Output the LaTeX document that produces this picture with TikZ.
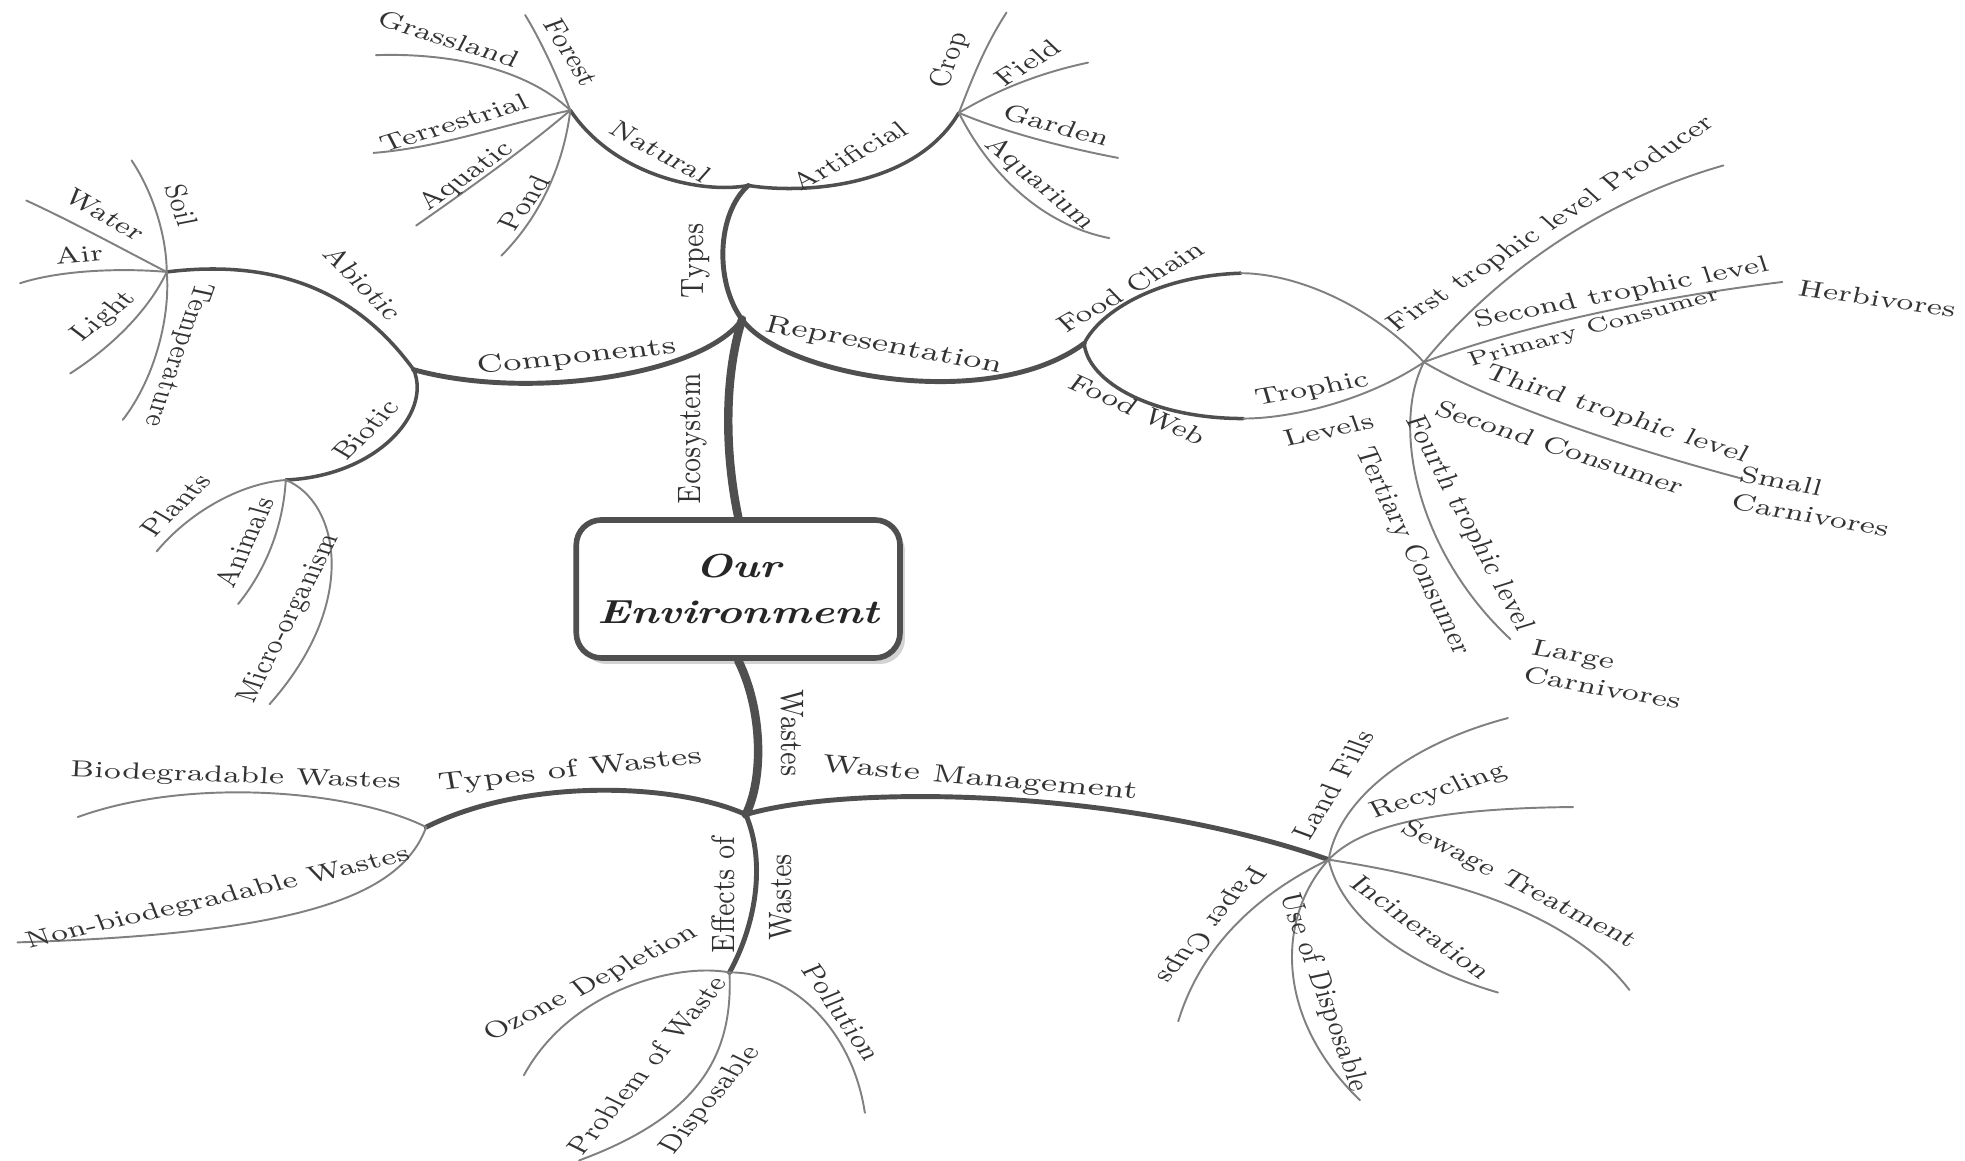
\documentclass[tikz,border=0pt]{standalone}
\usepackage{tikz}
\usepackage{xcolor}
\usetikzlibrary{shadows}

\definecolor{inkgrey}{HTML}{333333}
\definecolor{limbgrey}{HTML}{4f4f4f}
\definecolor{twiggrey}{HTML}{808080}

\begin{document}
\begin{tikzpicture}[xscale=1.3, x=0.0964mm, y=-0.12532mm,
  every node/.append style={transform shape},
  trunkline/.style={draw=limbgrey, line width=2.4pt, line cap=round},
  mainline/.style={draw=limbgrey, line width=1.4pt, line cap=round},
  subline/.style={draw=limbgrey, line width=1pt, line cap=round},
  leafline/.style={draw=twiggrey, line width=0.55pt, line cap=round},
  word/.style={text=inkgrey, font=\fontsize{6.6}{8}\selectfont, inner sep=0.8pt},
  bigword/.style={word, font=\fontsize{7.1}{8.6}\selectfont},
  smallword/.style={word, font=\fontsize{5.7}{7}\selectfont},
  tilt/.style={rotate={atan2(1.3*sin(#1),cos(#1))}},
  envbox/.style={draw=limbgrey, line width=1.6pt, rounded corners=2.5mm, fill=white,
    minimum width=24.9mm, minimum height=13.8mm, align=center, text=black!85,
    font=\fontsize{9.5}{13}\selectfont\bfseries\itshape,
    drop shadow={shadow xshift=0.5mm, shadow yshift=-0.6mm, opacity=0.35}}]
\useasboundingbox (0,0) rectangle (1568,926);

\node[envbox] (env) at (589,470) {Our\\Environment};

\coordinate (eco) at (592,255);
\coordinate (wst) at (595,650);
\coordinate (typ) at (597,148);
\coordinate (cmp) at (330,295);
\coordinate (rep) at (865,274);
\coordinate (nat) at (455,88);
\coordinate (art) at (765,90);
\coordinate (abi) at (133,217);
\coordinate (bio) at (228,383);
\coordinate (fch) at (990,218);
\coordinate (fwb) at (992,334);
\coordinate (tro) at (1136,289);
\coordinate (tow) at (340,660);
\coordinate (mgt) at (1060,686);
\coordinate (eff) at (582,776);

\coordinate (forest) at (419,12);
\coordinate (grass) at (300,44);
\coordinate (terr) at (298,122);
\coordinate (aqua) at (332,180);
\coordinate (pond) at (400,204);
\coordinate (crop) at (803,10);
\coordinate (field) at (868,50);
\coordinate (garden) at (892,126);
\coordinate (aquar) at (885,190);
\coordinate (soil) at (105,128);
\coordinate (water) at (21,160);
\coordinate (air) at (16,226);
\coordinate (light) at (56,298);
\coordinate (temp) at (98,335);
\coordinate (plants) at (125,440);
\coordinate (animals) at (190,482);
\coordinate (micro) at (215,562);
\coordinate (first) at (1375,132);
\coordinate (second) at (1422,225);
\coordinate (third) at (1390,382);
\coordinate (fourth) at (1205,510);
\coordinate (biod) at (62,652);
\coordinate (nonb) at (14,752);
\coordinate (ozone) at (418,858);
\coordinate (probl) at (462,926);
\coordinate (pollu) at (690,888);
\coordinate (landf) at (1203,573);
\coordinate (recyc) at (1255,644);
\coordinate (sewage) at (1300,790);
\coordinate (incin) at (1195,792);
\coordinate (usedis) at (1085,878);
\coordinate (paper) at (940,815);

\draw[trunkline] (env.north) .. controls (578,360) and (578,300) .. (eco);
\draw[trunkline] (env.south) .. controls (608,565) and (610,620) .. (wst);

\draw[mainline] (eco) .. controls (570,225) and (572,170) .. (typ);
\draw[mainline] (eco) .. controls (560,300) and (420,320) .. (cmp);
\draw[mainline] (eco) .. controls (625,300) and (790,330) .. (rep);
\draw[mainline] (wst) .. controls (540,625) and (420,620) .. (tow);
\draw[mainline] (wst) .. controls (680,625) and (900,630) .. (mgt);
\draw[mainline] (wst) .. controls (612,690) and (602,740) .. (eff);

\draw[subline] (typ) .. controls (560,155) and (490,140) .. (nat);
\draw[subline] (typ) .. controls (640,155) and (730,150) .. (art);
\draw[subline] (cmp) .. controls (290,240) and (230,205) .. (abi);
\draw[subline] (cmp) .. controls (345,330) and (300,380) .. (bio);
\draw[subline] (rep) .. controls (878,248) and (925,220) .. (fch);
\draw[leafline] (fch) .. controls (1030,218) and (1090,240) .. (tro);
\draw[subline] (rep) .. controls (868,305) and (920,334) .. (fwb);
\draw[leafline] (fwb) .. controls (1030,334) and (1090,320) .. (tro);

\draw[leafline] (nat) .. controls (445,62) and (433,35) .. (forest);
\draw[leafline] (nat) .. controls (420,55) and (360,42) .. (grass);
\draw[leafline] (nat) .. controls (400,100) and (350,118) .. (terr);
\draw[leafline] (nat) .. controls (420,118) and (375,150) .. (aqua);
\draw[leafline] (nat) .. controls (450,130) and (432,172) .. (pond);
\draw[leafline] (art) .. controls (775,65) and (785,38) .. (crop);
\draw[leafline] (art) .. controls (795,72) and (830,58) .. (field);
\draw[leafline] (art) .. controls (800,105) and (850,118) .. (garden);
\draw[leafline] (art) .. controls (785,130) and (825,178) .. (aquar);
\draw[leafline] (abi) .. controls (133,190) and (123,155) .. (soil);
\draw[leafline] (abi) .. controls (100,200) and (60,178) .. (water);
\draw[leafline] (abi) .. controls (100,214) and (50,215) .. (air);
\draw[leafline] (abi) .. controls (120,245) and (92,275) .. (light);
\draw[leafline] (abi) .. controls (136,250) and (125,300) .. (temp);
\draw[leafline] (bio) .. controls (190,386) and (150,410) .. (plants);
\draw[leafline] (bio) .. controls (226,420) and (212,455) .. (animals);
\draw[leafline] (bio) .. controls (270,400) and (288,480) .. (micro);
\draw[leafline] (tro) .. controls (1180,235) and (1260,165) .. (first);
\draw[leafline] (tro) .. controls (1200,265) and (1300,240) .. (second);
\draw[leafline] (tro) .. controls (1180,315) and (1270,350) .. (third);
\draw[leafline] (tro) .. controls (1110,340) and (1130,440) .. (fourth);
\draw[leafline] (tow) .. controls (280,630) and (150,620) .. (biod);
\draw[leafline] (tow) .. controls (320,715) and (240,745) .. (nonb);
\draw[leafline] (eff) .. controls (540,768) and (455,790) .. (ozone);
\draw[leafline] (eff) .. controls (585,840) and (560,890) .. (probl);
\draw[leafline] (eff) .. controls (630,775) and (680,820) .. (pollu);
\draw[leafline] (mgt) .. controls (1068,640) and (1120,595) .. (landf);
\draw[leafline] (mgt) .. controls (1085,660) and (1140,645) .. (recyc);
\draw[leafline] (mgt) .. controls (1150,700) and (1250,725) .. (sewage);
\draw[leafline] (mgt) .. controls (1070,730) and (1120,770) .. (incin);
\draw[leafline] (mgt) .. controls (1020,730) and (1015,810) .. (usedis);
\draw[leafline] (mgt) .. controls (1010,710) and (960,750) .. (paper);

\node[bigword, tilt=90] (ecosys) at (553,350) {Ecosystem};
\node[bigword, tilt=-90] (wastes) at (632,585) {Wastes};
\node[bigword, tilt=90] (types) at (555,208) {Types};
\node[bigword, tilt=6] (compo) at (460,285) {Components};
\node[bigword, tilt=-10] (repre) at (705,276) {Representation};
\node[word, tilt=-28] (natur) at (527,121) {Natural};
\node[word, tilt=28] (artif) at (678,124) {Artificial};
\node[word, tilt=-58] (forstw) at (456,42) {Forest};
\node[word, tilt=-17] (graslw) at (358,31) {Grassland};
\node[word, tilt=17] (terrsw) at (362,98) {Terrestrial};
\node[word, tilt=35] (aquatw) at (372,141) {Aquatic};
\node[word, tilt=55] (pondw) at (418,162) {Pond};
\node[word, tilt=70] (cropw) at (758,48) {Crop};
\node[word, tilt=32] (fieldw) at (820,50) {Field};
\node[word, tilt=-15] (gardw) at (843,100) {Garden};
\node[word, tilt=-40] (aqrmw) at (830,147) {Aquarium};
\node[word, tilt=-45] (abiot) at (290,226) {Abiotic};
\node[word, tilt=45] (bioti) at (292,343) {Biotic};
\node[word, tilt=-72] (soilw) at (145,164) {Soil};
\node[word, tilt=-30] (watrw) at (84,171) {Water};
\node[word, tilt=5] (airw) at (63,203) {Air};
\node[word, tilt=38] (lighw) at (83,253) {Light};
\node[word, tilt=-110] (tempw) at (142,283) {Temperature};
\node[word, tilt=45] (plntw) at (140,403) {Plants};
\node[word, tilt=65] (anmlw) at (195,433) {Animals};
\node[word, tilt=63] (micrw) at (231,494) {Micro-organism};
\node[word, tilt=30] (fchnw) at (902,229) {Food Chain};
\node[word, tilt=-24] (fwebw) at (908,327) {Food Web};
\node[word, tilt=10] (troph) at (1047,311) {Trophic};
\node[word, tilt=12] (levls) at (1060,343) {Levels};
\node[word, tilt=33] (frstw) at (1238,179) {First trophic level Producer};
\node[word, tilt=11] (scndw) at (1294,234) {Second trophic level};
\node[smallword, tilt=15] (primw) at (1272,262) {Primary Consumer};
\node[word, tilt=-8] (herbw) at (1498,238) {Herbivores};
\node[word, tilt=-18] (thrdw) at (1290,331) {Third trophic level};
\node[word, tilt=-18] (scnsw) at (1245,357) {Second Consumer};
\node[word, tilt=-10, align=left] (smalw) at (1448,400) {Small\\Carnivores};
\node[word, tilt=-62] (frthw) at (1172,418) {Fourth trophic level};
\node[word, tilt=-64] (tertw) at (1127,440) {Tertiary Consumer};
\node[word, tilt=-10, align=left] (largw) at (1282,538) {Large\\Carnivores};
\node[bigword, tilt=6] (towst) at (455,615) {Types of Wastes};
\node[bigword, tilt=-5] (mgtw) at (782,622) {Waste Management};
\node[bigword, tilt=90] (effa) at (577,714) {Effects of};
\node[bigword, tilt=90] (effb) at (623,716) {Wastes};
\node[word, tilt=-2] (biodw) at (188,620) {Biodegradable Wastes};
\node[word, tilt=13] (nonbw) at (174,717) {Non-biodegradable Wastes};
\node[word, tilt=27] (ozonw) at (472,785) {Ozone Depletion};
\node[word, tilt=50] (probw) at (516,850) {Problem of Waste};
\node[word, tilt=50] (dispw) at (567,878) {Disposable};
\node[word, tilt=-55] (polluw) at (672,808) {Pollution};
\node[word, tilt=58] (landw) at (1064,626) {Land Fills};
\node[word, tilt=18] (recyw) at (1148,632) {Recycling};
\node[word, tilt=-27] (sewgw) at (1212,706) {Sewage Treatment};
\node[word, tilt=-36] (incnw) at (1134,740) {Incineration};
\node[word, tilt=-70] (usedw) at (1056,792) {Use of Disposable};
\node[word, tilt=-130] (papcw) at (966,738) {Paper Cups};
\end{tikzpicture}
\end{document}
